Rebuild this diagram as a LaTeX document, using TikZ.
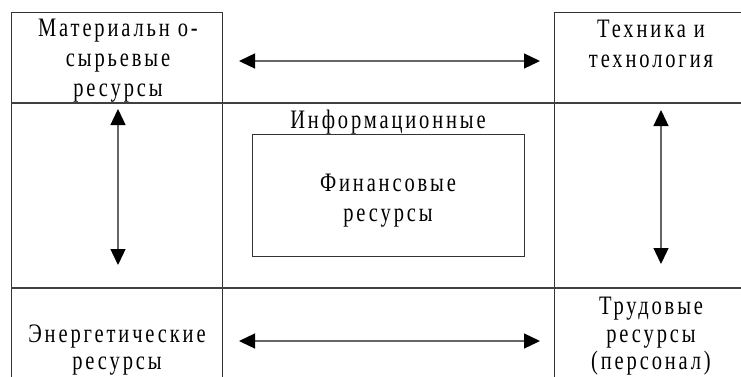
\documentclass[tikz,border=0pt]{standalone}
\usepackage{fontspec}
\setmainfont{Liberation Serif}[LetterSpace=14]
\usetikzlibrary{arrows.meta}
\newcommand\vstr[1]{\scalebox{1}[1.3]{#1}}
\tikzset{
  lbl/.style={anchor=base, inner sep=0pt, font=\fontsize{20.5}{26}\selectfont, text=black},
  frame/.style={draw=black!80, line width=1pt},
  heavy/.style={draw=black!75, line width=2.2pt},
  twoway/.style={draw=black!60, line width=1.3pt, {Triangle[length=16pt,width=15pt,black]}-{Triangle[length=16pt,width=15pt,black]}}
}
\begin{document}
\begin{tikzpicture}[x=1pt,y=-1pt]
\clip (0,0) rectangle (741,376);
\fill[white] (0,0) rectangle (741,376);
% grid coordinates
\coordinate (tlA) at (11,12);
\coordinate (trA) at (760,12);
\coordinate (v1t) at (222,12);
\coordinate (v1b) at (222,390);
\coordinate (v2t) at (554,12);
\coordinate (v2b) at (554,390);
\coordinate (h1l) at (11,103);
\coordinate (h1r) at (760,103);
\coordinate (h2l) at (11,288);
\coordinate (h2r) at (760,288);
\coordinate (lb) at (11,390);
% frame lines
\draw[frame] (lb) -- (tlA) -- (v1t) -- (v1b);
\draw[frame] (v2b) -- (v2t) -- (trA);
\draw[heavy] (h1l) -- (h1r);
\draw[heavy] (h2l) -- (h2r);
% inner box
\node[frame, minimum width=272pt, minimum height=122pt, inner sep=0pt] (fin) at (388,195) {};
% texts
\node[lbl] (t1) at (118,36) {\vstr{Материальн о-}};
\node[lbl] (t2) at (118,66) {\vstr{сырьевые}};
\node[lbl] (t3) at (118,96) {\vstr{ресурсы}};
\node[lbl] (t4) at (651,37) {\vstr{Техника и}};
\node[lbl] (t5) at (651,67) {\vstr{технология}};
\node[lbl] (t6) at (388,128) {\vstr{Информационные}};
\node[lbl] (t7) at (388,191) {\vstr{Финансовые}};
\node[lbl] (t8) at (388,221) {\vstr{ресурсы}};
\node[lbl] (t9) at (117,342) {\vstr{Энергетические}};
\node[lbl] (t10) at (117,369) {\vstr{ресурсы}};
\node[lbl] (t11) at (651,314) {\vstr{Трудовые}};
\node[lbl] (t12) at (651,342) {\vstr{ресурсы}};
\node[lbl] (t13) at (651,369) {\vstr{(персонал)}};
% arrow end points
\coordinate (a1l) at (239,61);
\coordinate (a1r) at (540,61);
\coordinate (a2l) at (239,341);
\coordinate (a2r) at (540,341);
\coordinate (a3t) at (118,109);
\coordinate (a3b) at (118,265);
\coordinate (a4t) at (661,110);
\coordinate (a4b) at (661,264);
\draw[twoway] (a1l) -- (a1r);
\draw[twoway] (a2l) -- (a2r);
\draw[twoway] (a3t) -- (a3b);
\draw[twoway] (a4t) -- (a4b);
\end{tikzpicture}
\end{document}
